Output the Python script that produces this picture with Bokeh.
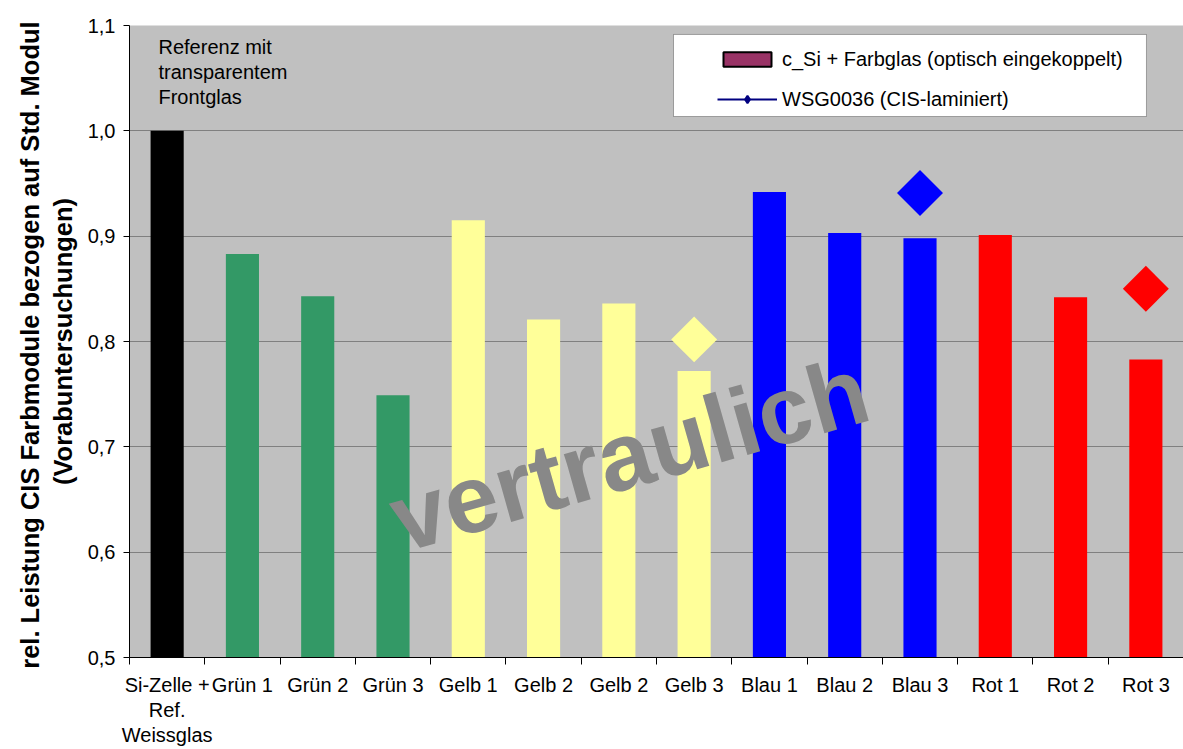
import math
from bokeh.plotting import figure
from bokeh.models import (FixedTicker, CustomJSTickFormatter, Legend, LegendItem,
                          BoxAnnotation, ColumnDataSource, Range1d, Label)
from bokeh.core.properties import value
from bokeh.embed import file_html
from bokeh.resources import INLINE

# ---------------- data ----------------
categories = ["Si-Zelle +\nRef.\nWeissglas", "Grün 1", "Grün 2", "Grün 3",
              "Gelb 1", "Gelb 2", "Gelb 2", "Gelb 3",
              "Blau 1", "Blau 2", "Blau 3", "Rot 1", "Rot 2", "Rot 3"]
bar_values = [1.000, 0.883, 0.843, 0.749, 0.915, 0.821, 0.836, 0.772,
              0.942, 0.903, 0.898, 0.901, 0.842, 0.783]
bar_colors = ["#000000", "#339966", "#339966", "#339966",
              "#FFFF99", "#FFFF99", "#FFFF99", "#FFFF99",
              "#0000FF", "#0000FF", "#0000FF", "#FF0000", "#FF0000", "#FF0000"]
wsg_index = [7, 10, 13]          # Gelb 3, Blau 3, Rot 3
wsg_values = [0.802, 0.941, 0.850]
wsg_colors = ["#FFFF99", "#0000FF", "#FF0000"]
y_ticks = [0.5, 0.6, 0.7, 0.8, 0.9, 1.0, 1.1]
series_bar = "c_Si + Farbglas (optisch eingekoppelt)"
series_wsg = "WSG0036 (CIS-laminiert)"
note_lines = ["Referenz mit", "transparentem", "Frontglas"]
watermark = "vertraulich"

FONT = "Liberation Sans"

x_centers = [i + 0.5 for i in range(len(categories))]
bar_src = ColumnDataSource(dict(x=x_centers, top=bar_values, color=bar_colors))
wsg_src = ColumnDataSource(dict(x=[x_centers[i] for i in wsg_index], y=wsg_values, color=wsg_colors))

p = figure(width=1183, height=749, output_backend="svg", toolbar_location=None,
           x_range=Range1d(0, len(categories)), y_range=Range1d(0.5, 1.1),
           min_border_left=129, min_border_right=0, min_border_top=25, min_border_bottom=92)
p.background_fill_color = "#C0C0C0"
p.border_fill_color = "white"
p.outline_line_color = None

# grid
p.xgrid.grid_line_color = None
p.ygrid.grid_line_color = "#808080"
p.ygrid.grid_line_width = 1

# legend frame (drawn under glyphs)
p.add_layout(BoxAnnotation(left=7.226, right=13.508, bottom=1.0136, top=1.0915,
                           fill_color="white", fill_alpha=1.0, line_color="black",
                           line_width=1, level="underlay"))

# bars
p.vbar(x="x", top="top", bottom=0.5, width=0.44, fill_color="color", line_color=None, source=bar_src)

# diamonds
p.scatter(x="x", y="y", marker="square", angle=math.pi / 4, size=32.5,
          fill_color="color", line_color=None, source=wsg_src)

# note text
p.text(x=[0.385, 0.385, 0.385], y=[1.0896, 1.0896 - 0.02373, 1.0896 - 0.04746], text=note_lines,
       text_font=value(FONT), text_font_size="20px", text_color="black",
       text_baseline="top", text_align="left")

# x axis
xa = p.xaxis[0]
xa.ticker = FixedTicker(ticks=x_centers, minor_ticks=list(range(len(categories) + 1)))
xa.formatter = CustomJSTickFormatter(args=dict(labels=categories),
                                     code="return labels[Math.round(tick - 0.5)];")
xa.major_tick_line_color = None
xa.major_tick_out = 7
xa.major_tick_in = 0
xa.minor_tick_line_color = "black"
xa.minor_tick_out = 7
xa.minor_tick_in = 0
xa.axis_line_color = "black"
xa.major_label_text_font = FONT
xa.major_label_text_font_size = "20px"
xa.major_label_text_color = "black"
xa.major_label_text_line_height = 1.15
xa.major_label_standoff = 9

# y axis
ya = p.yaxis[0]
ya.ticker = FixedTicker(ticks=y_ticks)
ya.formatter = CustomJSTickFormatter(code="return tick.toFixed(1).replace('.', ',');")
ya.major_tick_out = 6
ya.major_tick_in = 0
ya.minor_tick_line_color = None
ya.axis_line_color = "black"
ya.major_label_text_font = FONT
ya.major_label_text_font_size = "20px"
ya.major_label_text_color = "black"
ya.major_label_standoff = 8
ya.axis_label = "rel. Leistung CIS Farbmodule bezogen auf Std.  Modul\n(Vorabuntersuchungen)"
ya.axis_label_text_font = FONT
ya.axis_label_text_font_size = "25.5px"
ya.axis_label_text_font_style = "bold"
ya.axis_label_text_color = "black"
ya.axis_label_standoff = 8
ya.axis_label_text_line_height = 1.15

# legend dummy renderers (placed outside the visible range)
leg_bar = p.vbar(x=[-5], top=[0.4], bottom=0.3, width=0.4, fill_color="#993366",
                 line_color="black", line_width=2)
leg_line = p.line(x=[-5, -4], y=[0.3, 0.3], line_color="#000080", line_width=2)
leg_mark = p.scatter(x=[-5], y=[0.3], marker="diamond", size=16,
                     fill_color="#000080", line_color="#000080", line_width=2)

legend = Legend(items=[LegendItem(label=series_bar, renderers=[leg_bar]),
                       LegendItem(label=series_wsg, renderers=[leg_line, leg_mark])],
                location=(588, 546), padding=0, spacing=16, margin=0,
                glyph_width=60, glyph_height=18, label_standoff=5, label_height=24,
                label_text_font=FONT, label_text_font_size="20px", label_text_color="black",
                border_line_color=None, background_fill_alpha=0)
p.add_layout(legend)

# watermark (drawn last)
p.add_layout(Label(x=3.50, y=0.630, text=watermark, angle=0.276,
                   text_font=FONT, text_font_size="96px", text_font_style="bold",
                   text_color="#888888", text_align="left", text_baseline="alphabetic"))

open("out.html", "w").write(file_html(p, INLINE))
